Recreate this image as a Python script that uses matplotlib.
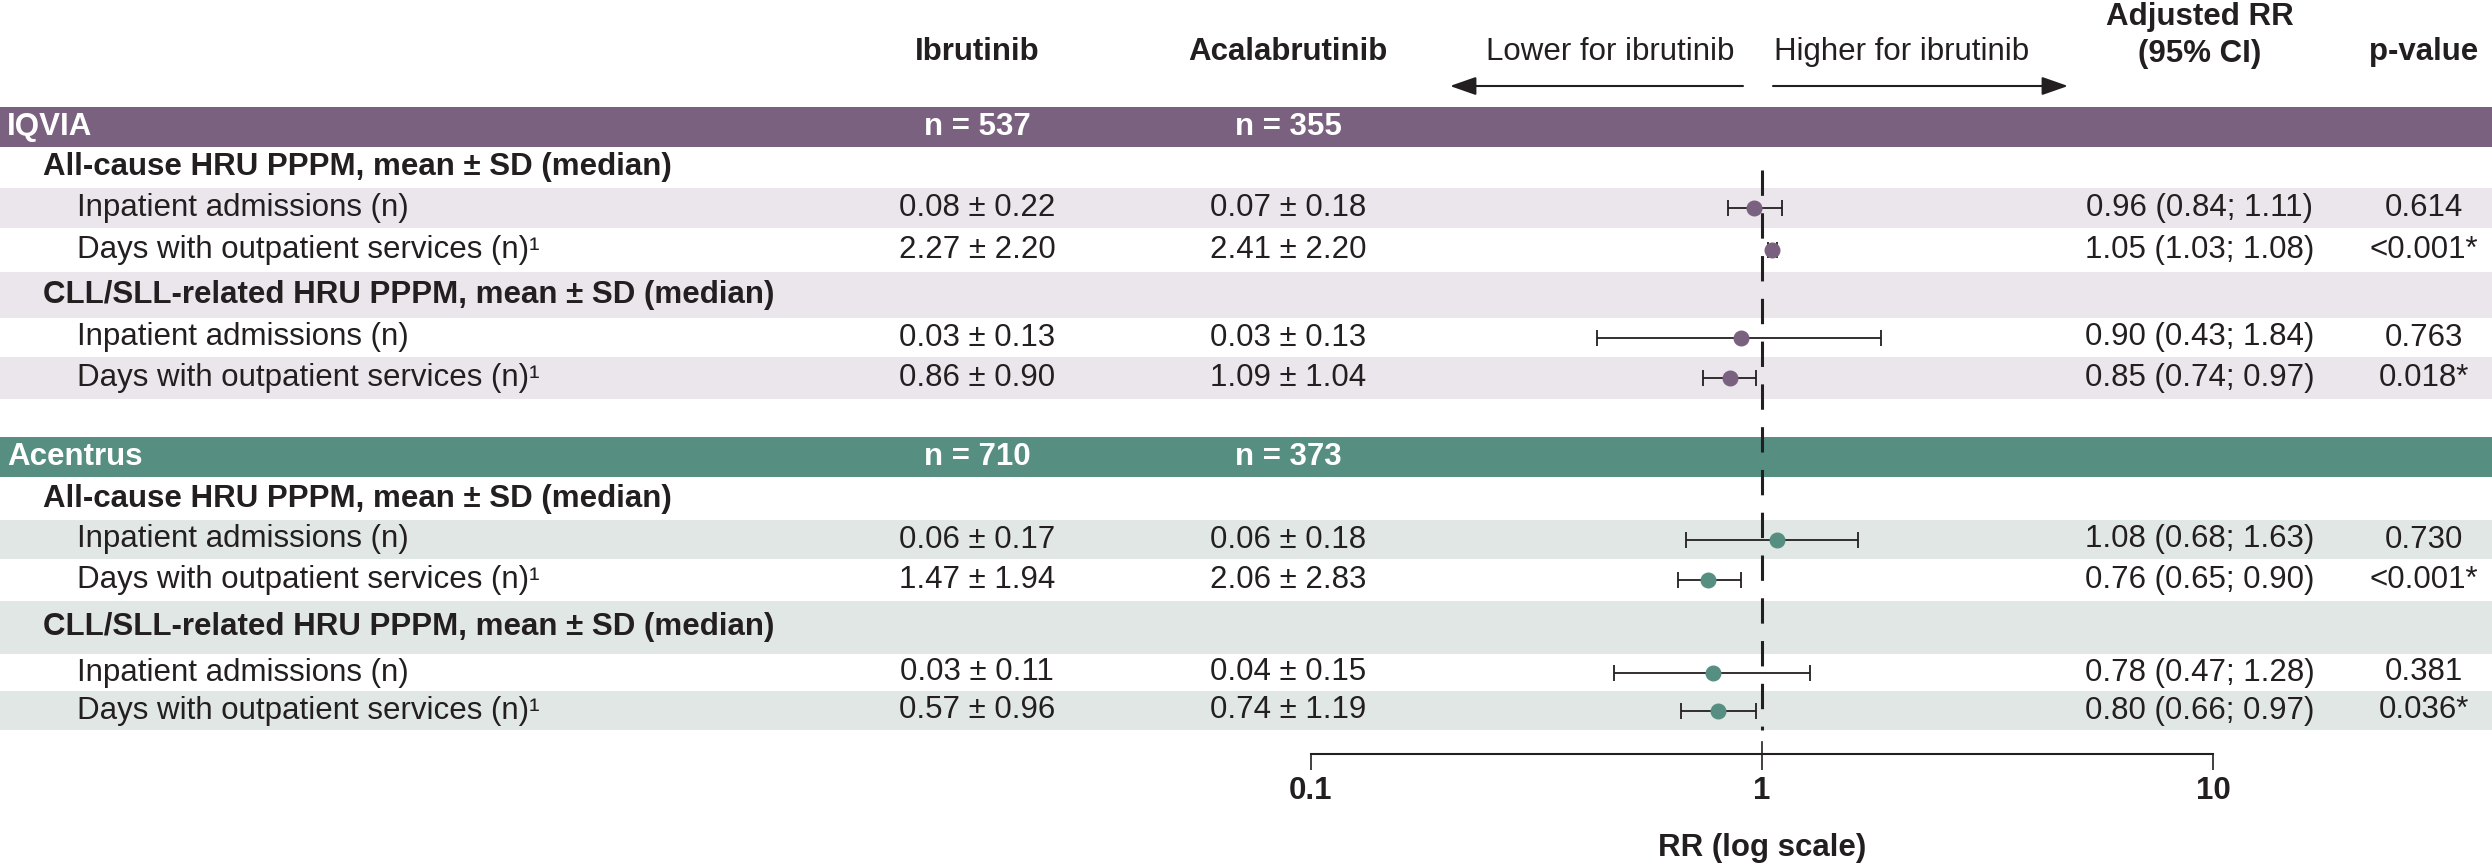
import matplotlib

matplotlib.use("Agg")
import matplotlib.pyplot as plt
from matplotlib.ticker import NullLocator

plt.rcParams["font.family"] = ["Liberation Sans", "DejaVu Sans"]

# --- data -----------------------------------------------------------------
SOURCES = ["IQVIA", "Acentrus"]
N_IBRUTINIB = [537, 710]
N_ACALABRUTINIB = [355, 373]
GROUPS = [
    "All-cause HRU PPPM, mean \u00b1 SD (median)",
    "CLL/SLL-related HRU PPPM, mean \u00b1 SD (median)",
]
OUTCOMES = ["Inpatient admissions (n)", "Days with outpatient services (n)\u00b9"]

IBRUTINIB = [
    "0.08 \u00b1 0.22", "2.27 \u00b1 2.20", "0.03 \u00b1 0.13", "0.86 \u00b1 0.90",
    "0.06 \u00b1 0.17", "1.47 \u00b1 1.94", "0.03 \u00b1 0.11", "0.57 \u00b1 0.96",
]
ACALABRUTINIB = [
    "0.07 \u00b1 0.18", "2.41 \u00b1 2.20", "0.03 \u00b1 0.13", "1.09 \u00b1 1.04",
    "0.06 \u00b1 0.18", "2.06 \u00b1 2.83", "0.04 \u00b1 0.15", "0.74 \u00b1 1.19",
]
RR = [0.96, 1.05, 0.90, 0.85, 1.08, 0.76, 0.78, 0.80]
RR_LOW = [0.84, 1.03, 0.43, 0.74, 0.68, 0.65, 0.47, 0.66]
RR_HIGH = [1.11, 1.08, 1.84, 0.97, 1.63, 0.90, 1.28, 0.97]
P_VALUES = ["0.614", "<0.001*", "0.763", "0.018*", "0.730", "<0.001*", "0.381", "0.036*"]
RR_TICKS = [0.1, 1, 10]
REF_RR = 1.0

# --- layout (pixels) --------------------------------------------------------
W, H = 2492, 867
ROW_EDGES = [107, 147, 188, 228, 272, 318, 357, 399, 437, 477, 520, 559, 601, 654, 691, 730]
AXIS_Y = 754
RR_LEFT_PX, RR_RIGHT_PX = 1311, 2213
X_SOURCE, X_GROUP, X_OUTCOME = 7, 43, 77
X_IBR, X_ACAL, X_RR, X_P = 977, 1288, 2200, 2424
FS = 22.5

INK = "#231f20"
BAND = {"IQVIA": "#7a6180", "Acentrus": "#568f81"}
SHADE = {"IQVIA": "#ebe5ec", "Acentrus": "#e1e7e5"}

fig = plt.figure(figsize=(W / 100, H / 100), dpi=100)
tab = fig.add_axes([0, 0, 1, 1])
tab.set_xlim(0, W)
tab.set_ylim(H, 0)
tab.axis("off")

forest = fig.add_axes([RR_LEFT_PX / W, 0, (RR_RIGHT_PX - RR_LEFT_PX) / W, 1])
forest.set_xscale("log")
forest.set_xlim(RR_TICKS[0], RR_TICKS[-1])
forest.set_ylim(H, 0)
forest.patch.set_visible(False)
for side in ("left", "right", "top"):
    forest.spines[side].set_visible(False)
forest.spines["bottom"].set_position(("data", AXIS_Y))
forest.spines["bottom"].set_linewidth(1.5)
forest.spines["bottom"].set_color(INK)
forest.set_yticks([])
forest.set_xticks(RR_TICKS)
forest.set_xticklabels([f"{t:g}" for t in RR_TICKS], fontsize=FS, fontweight="bold", color=INK)
forest.xaxis.set_minor_locator(NullLocator())
forest.tick_params(axis="x", direction="out", length=11.5, width=1.2, color=INK, pad=4)
forest.set_xlabel("RR (log scale)", fontsize=FS, fontweight="bold", color=INK, labelpad=20)

# column headers
header = dict(fontsize=FS, color=INK, va="center")
tab.text(X_IBR, 52, "Ibrutinib", ha="center", fontweight="bold", **header)
tab.text(X_ACAL, 52, "Acalabrutinib", ha="center", fontweight="bold", **header)
tab.text(X_RR, 17, "Adjusted RR", ha="center", fontweight="bold", **header)
tab.text(X_RR, 54, "(95% CI)", ha="center", fontweight="bold", **header)
tab.text(X_P, 52, "p-value", ha="center", fontweight="bold", **header)
tab.text(1734, 52, "Lower for ibrutinib", ha="right", **header)
tab.text(1774, 52, "Higher for ibrutinib", ha="left", **header)
arrow = dict(arrowstyle="-|>,head_length=0.8,head_width=0.28", mutation_scale=20,
             lw=1.5, color=INK, shrinkA=0, shrinkB=0)
tab.annotate("", xy=(1450, 86), xytext=(1743, 86), arrowprops=arrow)
tab.annotate("", xy=(2068, 86), xytext=(1773, 86), arrowprops=arrow)

row = 0
for s, src in enumerate(SOURCES):
    top, bot = ROW_EDGES[row], ROW_EDGES[row + 1]
    yc = (top + bot) / 2
    tab.axhspan(top, bot, color=BAND[src], lw=0)
    band_txt = dict(fontsize=FS, fontweight="bold", color="white", va="center")
    tab.text(X_SOURCE, yc, src, ha="left", **band_txt)
    tab.text(X_IBR, yc, f"n = {N_IBRUTINIB[s]}", ha="center", **band_txt)
    tab.text(X_ACAL, yc, f"n = {N_ACALABRUTINIB[s]}", ha="center", **band_txt)
    row += 1

    k = 0
    for g, group in enumerate(GROUPS):
        top, bot = ROW_EDGES[row], ROW_EDGES[row + 1]
        if k % 2:
            tab.axhspan(top, bot, color=SHADE[src], lw=0)
        tab.text(X_GROUP, (top + bot) / 2, group, ha="left", va="center",
                 fontsize=FS, fontweight="bold", color=INK)
        row += 1
        k += 1
        for o, outcome in enumerate(OUTCOMES):
            i = s * 4 + g * 2 + o
            top, bot = ROW_EDGES[row], ROW_EDGES[row + 1]
            yc = (top + bot) / 2
            if k % 2:
                tab.axhspan(top, bot, color=SHADE[src], lw=0)
            cell = dict(fontsize=FS, color=INK, va="center")
            tab.text(X_OUTCOME, yc, outcome, ha="left", **cell)
            tab.text(X_IBR, yc, IBRUTINIB[i], ha="center", **cell)
            tab.text(X_ACAL, yc, ACALABRUTINIB[i], ha="center", **cell)
            tab.text(X_RR, yc, f"{RR[i]:.2f} ({RR_LOW[i]:.2f}; {RR_HIGH[i]:.2f})", ha="center", **cell)
            tab.text(X_P, yc, P_VALUES[i], ha="center", **cell)
            forest.errorbar(
                RR[i], yc,
                xerr=[[RR[i] - RR_LOW[i]], [RR_HIGH[i] - RR[i]]],
                fmt="o", color=BAND[src], markersize=10.5, ecolor=INK,
                elinewidth=1.3, capsize=5.5, capthick=1.3, zorder=4,
            )
            row += 1
            k += 1
    row += 1  # blank spacer between data sources

# reference line at RR = 1
forest.plot([REF_RR, REF_RR], [170, ROW_EDGES[-1]], color=INK, lw=2.2,
            ls=(0, (8.3, 5.7)), zorder=3)
forest.plot([REF_RR, REF_RR], [742, AXIS_Y], color=INK, lw=1.2, zorder=3)

fig.savefig("out.png", dpi=100)
plt.close(fig)
